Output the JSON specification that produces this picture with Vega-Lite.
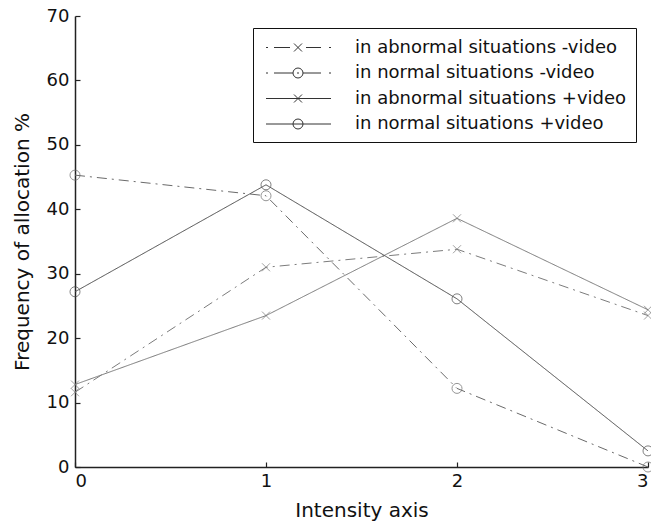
{
  "$schema": "https://vega.github.io/schema/vega-lite/v6.json",
  "autosize": "none",
  "width": 573,
  "height": 451,
  "padding": {"left": 75, "top": 16, "right": 3, "bottom": 61},
  "background": "white",
  "config": {
    "view": {"stroke": null},
    "font": "DejaVu Sans",
    "axis": {
      "grid": false,
      "domainColor": "#222",
      "domainWidth": 1.5,
      "tickColor": "#222",
      "tickWidth": 1.2,
      "tickSize": -5,
      "labelFont": "DejaVu Sans",
      "labelFontSize": 18,
      "labelColor": "#111",
      "titleFont": "DejaVu Sans",
      "titleFontSize": 20,
      "titleFontWeight": "normal",
      "titleColor": "#111"
    }
  },
  "data": {
    "values": [
      {"series": "in abnormal situations -video", "intensity": 0, "frequency": 11.6},
      {"series": "in abnormal situations -video", "intensity": 1, "frequency": 31.0},
      {"series": "in abnormal situations -video", "intensity": 2, "frequency": 33.8},
      {"series": "in abnormal situations -video", "intensity": 3, "frequency": 23.5},
      {"series": "in normal situations -video", "intensity": 0, "frequency": 45.3},
      {"series": "in normal situations -video", "intensity": 1, "frequency": 42.1},
      {"series": "in normal situations -video", "intensity": 2, "frequency": 12.2},
      {"series": "in normal situations -video", "intensity": 3, "frequency": 0},
      {"series": "in abnormal situations +video", "intensity": 0, "frequency": 12.8},
      {"series": "in abnormal situations +video", "intensity": 1, "frequency": 23.5},
      {"series": "in abnormal situations +video", "intensity": 2, "frequency": 38.6},
      {"series": "in abnormal situations +video", "intensity": 3, "frequency": 24.4},
      {"series": "in normal situations +video", "intensity": 0, "frequency": 27.2},
      {"series": "in normal situations +video", "intensity": 1, "frequency": 43.8},
      {"series": "in normal situations +video", "intensity": 2, "frequency": 26.1},
      {"series": "in normal situations +video", "intensity": 3, "frequency": 2.5}
    ]
  },
  "encoding": {
    "x": {
      "field": "intensity",
      "type": "quantitative",
      "scale": {"domain": [0, 3], "nice": false},
      "axis": {"values": [0, 1, 2, 3], "format": "d", "title": "Intensity axis", "labelPadding": 10, "titlePadding": 10}
    },
    "y": {
      "field": "frequency",
      "type": "quantitative",
      "scale": {"domain": [0, 70], "nice": false},
      "axis": {"values": [0, 10, 20, 30, 40, 50, 60, 70], "title": "Frequency of allocation %", "labelPadding": 11, "titlePadding": 14}
    }
  },
  "layer": [
    {
      "mark": {"type": "line", "strokeWidth": 1},
      "encoding": {
        "detail": {"field": "series"},
        "color": {
          "field": "series",
          "type": "nominal",
          "scale": {
            "domain": ["in abnormal situations -video", "in normal situations -video", "in abnormal situations +video", "in normal situations +video"],
            "range": ["#7c7c7c", "#6a6a6a", "#777777", "#4a4a4a"]
          },
          "legend": null
        },
        "strokeDash": {
          "field": "series",
          "type": "nominal",
          "scale": {
            "domain": ["in abnormal situations -video", "in normal situations -video", "in abnormal situations +video", "in normal situations +video"],
            "range": [[10, 5, 2, 5], [10, 5, 2, 5], [1, 0], [1, 0]]
          },
          "legend": null
        },
        "order": {"field": "intensity"}
      }
    },
    {
      "mark": {"type": "point", "filled": false, "size": 100, "strokeWidth": 1},
      "encoding": {
        "color": {"field": "series", "type": "nominal", "legend": null},
        "shape": {
          "field": "series",
          "type": "nominal",
          "scale": {
            "domain": ["in abnormal situations -video", "in normal situations -video", "in abnormal situations +video", "in normal situations +video"],
            "range": ["M-0.8,-0.8L0.8,0.8M-0.8,0.8L0.8,-0.8", "circle", "M-0.8,-0.8L0.8,0.8M-0.8,0.8L0.8,-0.8", "circle"]
          },
          "legend": null
        }
      }
    },
    {
      "mark": {"type": "point", "filled": false, "opacity": 0, "size": 0},
      "encoding": {
        "shape": {
          "field": "series",
          "type": "nominal",
          "scale": {
            "domain": ["in abnormal situations -video", "in normal situations -video", "in abnormal situations +video", "in normal situations +video"],
            "range": [
              "M-0.65,0L-0.45,0M0.15,0L1.75,0M3.35,0L4.85,0M5.65,0L5.85,0M2.15,-0.4L2.95,0.4M2.15,0.4L2.95,-0.4",
              "M-0.65,0L-0.45,0M0.15,0L2.05,0M3.05,0L4.85,0M5.65,0L5.85,0M2.45,0L2.65,0M3.05,0A0.5,0.5 0 1,1 2.05,0A0.5,0.5 0 1,1 3.05,0",
              "M-0.65,0L5.85,0M2.15,-0.4L2.95,0.4M2.15,0.4L2.95,-0.4",
              "M-0.65,0L5.85,0M3.05,0A0.5,0.5 0 1,1 2.05,0A0.5,0.5 0 1,1 3.05,0"
            ]
          },
          "legend": {
            "title": null,
            "orient": "none",
            "legendX": 178,
            "legendY": 12,
            "padding": 9,
            "strokeColor": "#111",
            "fillColor": "white",
            "symbolSize": 400,
            "symbolOpacity": 1,
            "symbolStrokeColor": "#333",
            "symbolFillColor": "transparent",
            "symbolStrokeWidth": 1,
            "labelFont": "DejaVu Sans",
            "labelFontSize": 18,
            "labelColor": "#111",
            "labelOffset": 72,
            "labelLimit": 400,
            "rowPadding": 5.5,
            "encode": {"legend": {"update": {"strokeWidth": {"value": 1.5}}}}
          }
        }
      }
    }
  ],
  "resolve": {"scale": {"shape": "independent"}}
}
